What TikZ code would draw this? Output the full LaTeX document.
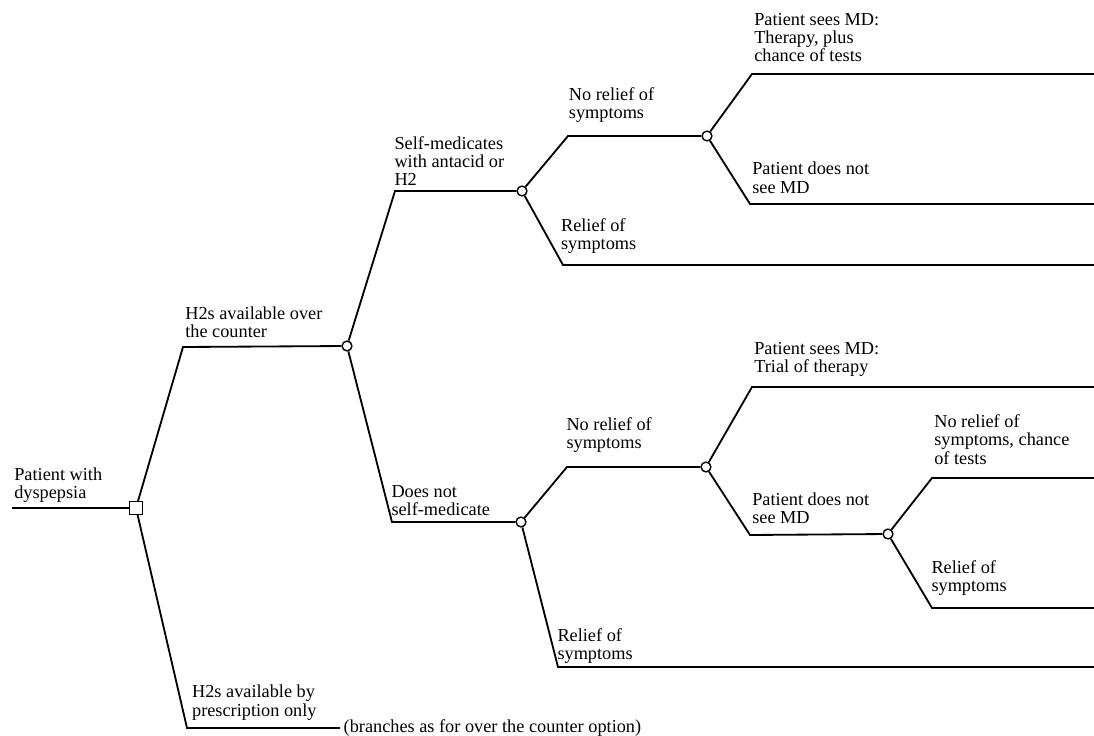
\documentclass[tikz,border=0pt]{standalone}
\usepackage{fontspec}
\setmainfont{Liberation Serif}
\tikzset{
  chance/.style={circle,draw,fill=white,line width=1pt,inner sep=0pt,minimum size=7pt},
  decision/.style={rectangle,draw,fill=white,line width=1pt,inner sep=0pt,minimum size=9pt},
  lbl/.style={align=left,inner sep=1pt,anchor=south west,font=\fontsize{13}{13}\selectfont}
}
\begin{document}
\begin{tikzpicture}[x=0.025cm,y=-0.025cm,line width=1.3pt]
    \useasboundingbox (0,0) rectangle (1094,736);
    % points of the tree
    \coordinate (start) at (12,508);
    \coordinate (otc) at (183,347);
    \coordinate (rx) at (187,728);
    \coordinate (rxend) at (340,728);
    \coordinate (self) at (395,191);
    \coordinate (noself) at (392,522);
    \coordinate (nr1) at (568,136);
    \coordinate (r1) at (563,265);
    \coordinate (r1end) at (1094,265);
    \coordinate (md1) at (752,74);
    \coordinate (md1end) at (1094,74);
    \coordinate (nomd1) at (750,204);
    \coordinate (nomd1end) at (1094,204);
    \coordinate (nr2) at (567,467);
    \coordinate (r2) at (558,667);
    \coordinate (r2end) at (1094,667);
    \coordinate (md2) at (752,387);
    \coordinate (md2end) at (1094,387);
    \coordinate (nomd2) at (750,535);
    \coordinate (nr3) at (932,478);
    \coordinate (nr3end) at (1094,478);
    \coordinate (r3) at (932,608);
    \coordinate (r3end) at (1094,608);
    % decision and chance nodes
    \node[decision] (d0) at (136,508) {};
    \node[chance] (c1) at (347,346) {};
    \node[chance] (c2) at (522,191) {};
    \node[chance] (c3) at (521,522) {};
    \node[chance] (c4) at (707,136) {};
    \node[chance] (c5) at (706,467) {};
    \node[chance] (c6) at (888,534) {};
    % branches
    \draw (start) node[lbl,yshift=2pt]{Patient with\\dyspepsia} -- (d0);
    \draw (d0) -- (otc) node[lbl,yshift=5pt]{H2s available over\\the counter} -- (c1);
    \draw (d0) -- (rx) node[lbl,xshift=2pt,yshift=4pt]{H2s available by\\prescription only} -- (rxend)
      node[lbl,anchor=west,inner sep=2pt]{(branches as for over the counter option)};
    \draw (c1) -- (self) node[lbl,xshift=-2pt,yshift=2pt]{Self-medicates\\with antacid or\\H2} -- (c2);
    \draw (c1) -- (noself) node[lbl,xshift=-2pt,yshift=3pt]{Does not\\self-medicate} -- (c3);
    \draw (c2) -- (nr1) node[lbl,xshift=-1pt,yshift=8pt]{No relief of\\symptoms} -- (c4);
    \draw (c2) -- (r1) node[lbl,xshift=-3pt,yshift=6.5pt]{Relief of\\symptoms} -- (r1end);
    \draw (c4) -- (md1) node[lbl,yshift=7pt]{Patient sees MD:\\Therapy, plus\\chance of tests} -- (md1end);
    \draw (c4) -- (nomd1) node[lbl,yshift=6pt]{Patient does not\\see MD} -- (nomd1end);
    \draw (c3) -- (nr2) node[lbl,xshift=-2pt,yshift=8.5pt]{No relief of\\symptoms} -- (c5);
    \draw (c3) -- (r2) node[lbl,xshift=-2pt,yshift=1pt]{Relief of\\symptoms} -- (r2end);
    \draw (c5) -- (md2) node[lbl,yshift=6pt]{Patient sees MD:\\Trial of therapy} -- (md2end);
    \draw (c5) -- (nomd2) node[lbl,yshift=6.5pt]{Patient does not\\see MD} -- (c6);
    \draw (c6) -- (nr3) node[lbl,yshift=8pt]{No relief of\\symptoms, chance\\of tests} -- (nr3end);
    \draw (c6) -- (r3) node[lbl,xshift=-2pt,yshift=7pt]{Relief of\\symptoms} -- (r3end);
  \end{tikzpicture}
\end{document}
